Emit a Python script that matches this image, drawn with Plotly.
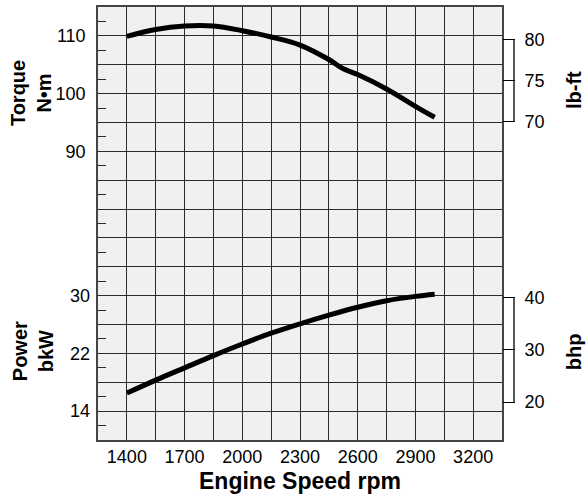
import plotly.graph_objects as go

# ---- data ----
rpm_torque = [1400, 1550, 1700, 1850, 2000, 2150, 2300, 2450, 2525, 2600, 2750, 2900, 3000]
torque_nm = [109.9, 111.1, 111.7, 111.7, 110.9, 109.8, 108.4, 105.9, 104.3, 103.3, 100.8, 97.8, 95.9]

rpm_power = [1400, 1550, 1700, 1850, 2000, 2150, 2300, 2450, 2600, 2750, 2900, 3000]
power_kw = [16.5, 18.3, 20.0, 21.7, 23.3, 24.8, 26.1, 27.3, 28.4, 29.3, 29.9, 30.2]

torque_ticks = [90, 100, 110]
power_ticks = [14, 22, 30]
lbft_ticks = [70, 75, 80]
bhp_ticks = [20, 30, 40]

x_range = [1250, 3350]
torque_range = [40, 115]
power_range = [10, 70]
lbft_range = [30.95, 84]
bhp_range = [12.74, 95.5]

GRID = "#2b2b2b"
FONT = "Liberation Sans, Arial, sans-serif"
torque_grid = list(range(torque_range[0], torque_range[1] + 1, 5))
torque_text = [str(v) if v in torque_ticks else "" for v in torque_grid]

fig = go.Figure()
fig.add_trace(go.Scatter(x=rpm_torque, y=torque_nm, mode="lines", yaxis="y",
                         line=dict(color="black", width=5, shape="spline"),
                         showlegend=False, hoverinfo="skip"))
fig.add_trace(go.Scatter(x=rpm_power, y=power_kw, mode="lines", yaxis="y2",
                         line=dict(color="black", width=5, shape="spline"),
                         showlegend=False, hoverinfo="skip"))
fig.add_trace(go.Scatter(x=[None], y=[None], yaxis="y3", showlegend=False, hoverinfo="skip"))
fig.add_trace(go.Scatter(x=[None], y=[None], yaxis="y4", showlegend=False, hoverinfo="skip"))

tickfont = dict(size=18, color="black", family=FONT)

fig.update_layout(
    width=587, height=495,
    margin=dict(l=98, r=85, t=7, b=55, autoexpand=False),
    paper_bgcolor="white", plot_bgcolor="#f0f0f0",
    font=dict(family=FONT, color="black"),
    xaxis=dict(range=x_range, tickmode="linear", tick0=1400, dtick=300,
               showgrid=True, gridcolor=GRID, gridwidth=1.3,
               minor=dict(tick0=1250, dtick=150, showgrid=True, gridcolor=GRID, gridwidth=1.3),
               ticks="", showline=True, mirror=True, linecolor="#444", linewidth=1.5,
               zeroline=False, tickfont=tickfont, ticklabelstandoff=0),
    yaxis=dict(range=torque_range, tickmode="array", tickvals=torque_grid, ticktext=torque_text,
               showgrid=True, gridcolor=GRID, gridwidth=1.3, ticks="",
               minor=dict(tickmode="linear", tick0=42.5, dtick=5, ticks="inside", ticklen=8,
                          tickcolor=GRID, tickwidth=1.3, showgrid=False),
               showline=True, mirror=True, linecolor="#444", linewidth=1.5,
               zeroline=False, tickfont=tickfont, ticklabelstandoff=7),
    yaxis2=dict(range=power_range, overlaying="y", side="left", anchor="x",
                tickmode="array", tickvals=power_ticks, showgrid=False, ticks="",
                zeroline=False, tickfont=tickfont, ticklabelstandoff=7),
    yaxis3=dict(range=lbft_range, overlaying="y", side="right", anchor="x",
                tickmode="array", tickvals=lbft_ticks, showgrid=False,
                ticks="outside", ticklen=12, tickwidth=1.3, tickcolor="black",
                zeroline=False, tickfont=tickfont, ticklabelstandoff=6),
    yaxis4=dict(range=bhp_range, overlaying="y", side="right", anchor="x",
                tickmode="array", tickvals=bhp_ticks, showgrid=False,
                ticks="outside", ticklen=12, tickwidth=1.3, tickcolor="black",
                zeroline=False, tickfont=tickfont, ticklabelstandoff=6),
)

bx = 1 + 12 / 404.0
fig.add_shape(type="line", xref="paper", x0=bx, x1=bx, yref="y3",
              y0=lbft_ticks[0], y1=lbft_ticks[-1], line=dict(color="black", width=1.3))
fig.add_shape(type="line", xref="paper", x0=bx, x1=bx, yref="y4",
              y0=bhp_ticks[0], y1=bhp_ticks[-1], line=dict(color="black", width=1.3))

def title(text, x, y, size=20):
    fig.add_annotation(text=text, xref="paper", yref="paper", x=x, y=y,
                       showarrow=False, textangle=-90, xanchor="center", yanchor="middle",
                       font=dict(size=size, color="black", family=FONT))

title("<b>Torque</b><br><b>N•m</b>", -0.166, 0.801)
title("<b>Power</b><br><b>bkW</b>", -0.161, 0.205)
title("<b>lb-ft</b>", 1.178, 0.808)
title("<b>bhp</b>", 1.178, 0.205)

fig.add_annotation(text="<b>Engine Speed rpm</b>", xref="paper", yref="paper",
                   x=0.5, y=-0.094, showarrow=False, xanchor="center", yanchor="middle",
                   font=dict(size=23, color="black", family=FONT))

fig.write_html("out.html", config={"displayModeBar": False},
               post_script="document.body.style.margin='0';document.body.style.overflow='hidden';")
